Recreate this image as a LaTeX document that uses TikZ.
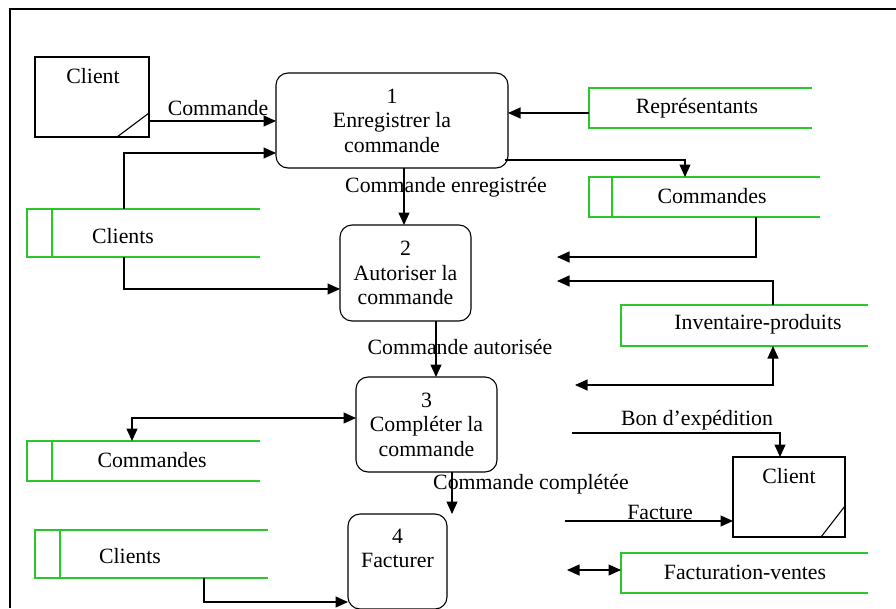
\documentclass[tikz,border=0pt]{standalone}
\usepackage{fontspec}
\setmainfont{Liberation Serif}
\usetikzlibrary{arrows.meta}
\definecolor{storegreen}{RGB}{40,200,40}
% open-ended data store: top, left and bottom sides only
\newcommand\storeopen[1]{\draw[storeline] (#1.north east) -- (#1.north west) -- (#1.south west) -- (#1.south east);}
\newcommand\storediv[2]{\draw[storeline] ([xshift=#2]#1.north west) -- ([xshift=#2]#1.south west);}
\begin{document}
\begin{tikzpicture}[x=1pt,y=-1pt,
  every node/.style={font=\fontsize{21.8}{24.5}\selectfont},
  proc/.style={draw, rounded corners=12pt, line width=1.1pt, inner sep=0pt, outer sep=0pt, align=center},
  extent/.style={draw, line width=1.1pt, inner sep=0pt, outer sep=0pt},
  storebox/.style={inner sep=0pt, outer sep=0pt},
  storeline/.style={draw=storegreen, line width=1.5pt},
  tip/.tip={Triangle[length=12.5pt,width=11pt]},
  flow/.style={line width=1.1pt, -tip},
  flow2/.style={line width=1.1pt, tip-tip},
  lbl/.style={inner sep=0pt, align=center}]
\clip (0,0) rectangle (896,608);
\useasboundingbox (0,0) rectangle (896,608);
\fill[white] (0,0) rectangle (896,608);

% frame
\draw[line width=1.2pt] (10,608) -- (10,9) -- (896,9);

% processes
\node[proc, minimum width=232pt, minimum height=95pt] (p1) at (392,120.5) {1\\Enregistrer la\\commande};
\node[proc, minimum width=131pt, minimum height=96pt] (p2) at (405.5,273) {2\\Autoriser la\\commande};
\node[proc, minimum width=141pt, minimum height=95pt] (p3) at (426.5,424.5) {3\\Compléter la\\commande};
\node[proc, minimum width=99pt, minimum height=95pt] (p4) at (397.5,561.5) {};
\node[lbl] (p4txt) at (397.5,548.5) {4\\Facturer};

% external entities
\node[extent, minimum width=114pt, minimum height=80pt] (ext1) at (92,97) {};
\node[lbl] (ext1txt) at (93,76) {Client};
\draw[line width=1.1pt] (ext1.east |- 0,113) -- (ext1.south -| 117,0);
\node[extent, minimum width=112pt, minimum height=80pt] (ext2) at (789,497) {};
\node[lbl] (ext2txt) at (789,476) {Client};
\draw[line width=1.1pt] (ext2.east |- 0,506) -- (ext2.south -| 821,0);

% data stores
\node[storebox, minimum width=223pt, minimum height=40pt] (rep) at (700.5,108) {};
\storeopen{rep}
\node[lbl] (reptxt) at (697,108) {Représentants};

\node[storebox, minimum width=231pt, minimum height=40pt] (cmdR) at (704.5,197) {};
\storeopen{cmdR}\storediv{cmdR}{23pt}
\node[lbl] (cmdRtxt) at (712,196) {Commandes};

\node[storebox, minimum width=233pt, minimum height=48pt] (clientsA) at (143.5,233) {};
\storeopen{clientsA}\storediv{clientsA}{25pt}
\node[lbl] (clientsAtxt) at (123,236) {Clients};

\node[storebox, minimum width=247pt, minimum height=41pt] (inv) at (744.5,325.5) {};
\storeopen{inv}
\node[lbl] (invtxt) at (758,324) {Inventaire-produits};

\node[storebox, minimum width=233pt, minimum height=40pt] (cmdL) at (143.5,461) {};
\storeopen{cmdL}\storediv{cmdL}{25pt}
\node[lbl] (cmdLtxt) at (152,460) {Commandes};

\node[storebox, minimum width=233pt, minimum height=48pt] (clientsB) at (151.5,554) {};
\storeopen{clientsB}\storediv{clientsB}{25pt}
\node[lbl] (clientsBtxt) at (130,556) {Clients};

\node[storebox, minimum width=247pt, minimum height=40pt] (fact) at (744.5,573) {};
\storeopen{fact}
\node[lbl] (facttxt) at (745,572) {Facturation-ventes};

% free ends of flows
\coordinate (f1) at (557,257);
\coordinate (f2) at (557,281);
\coordinate (f3) at (575,385);
\coordinate (f4) at (572,433);
\coordinate (f5) at (565,521);
\coordinate (f6) at (567,570);

% flows
\draw[flow] (ext1.east |- 0,121) -- (p1.west |- 0,121);
\draw[flow] (clientsA.north -| 124,0) -- (124,153) -- (p1.west |- 0,153);
\draw[flow] (rep.west |- 0,113) -- (p1.east |- 0,113);
\draw[flow] ([xshift=-3pt]p1.east |- 0,160) -- (685,160) -- (cmdR.north -| 685,0);
\draw[flow] (p1.south -| 404,0) -- (p2.north -| 404,0);
\draw[flow] (clientsA.south -| 124,0) -- (124,289) -- (p2.west |- 0,289);
\draw[flow] (cmdR.south -| 756,0) -- (756,257) -- (f1);
\draw[flow] (inv.north -| 773,0) -- (773,281) -- (f2);
\draw[flow] (p2.south -| 436,0) -- (p3.north -| 436,0);
\draw[flow2] (f3) -- (773,385) -- (inv.south -| 773,0);
\draw[flow2] (p3.west |- 0,418) -- (132,418) -- (cmdL.north -| 132,0);
\draw[flow] (p3.south -| 452,0) -- (p4.north -| 452,0);
\draw[flow] (f4) -- (780,433) -- (ext2.north -| 780,0);
\draw[flow] (f5) -- (ext2.west |- 0,521);
\draw[flow2] (f6) -- (fact.west |- 0,570);
\draw[flow] (clientsB.south -| 204,0) -- (204,602) -- (p4.west |- 0,602);

% flow labels
\node[lbl] (l1) at (218,108) {Commande};
\node[lbl] (l2) at (446,187) {Commande enregistrée};
\node[lbl] (l3) at (460,347) {Commande autorisée};
\node[lbl] (l4) at (531,484) {Commande complétée};
\node[lbl] (l5) at (697,420) {Bon d’expédition};
\node[lbl] (l6) at (660,512) {Facture};
\end{tikzpicture}
\end{document}
